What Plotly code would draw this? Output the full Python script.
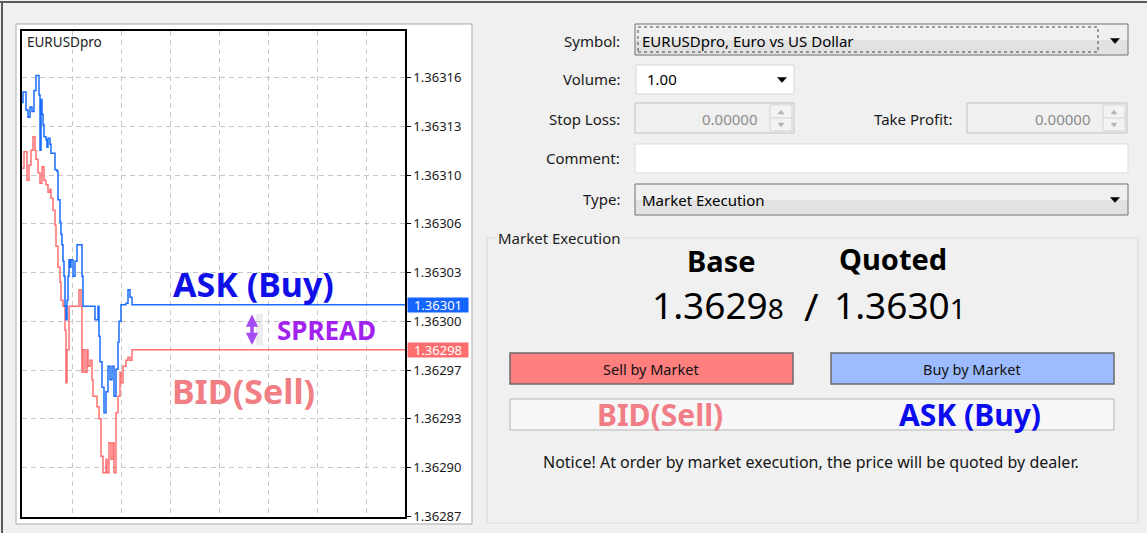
import plotly.graph_objects as go

# ---------------- data ----------------
ask_x = [0, 1, 4, 6, 8, 10, 12, 14, 17, 18, 19, 20, 21, 22, 24, 25, 26, 28, 29, 33, 35, 36, 38, 39, 40,
         41, 42, 43, 44, 45, 46, 47, 48, 49, 51, 53, 55, 60, 61, 73, 76, 77, 78, 80, 82, 84, 86, 88, 90,
         92, 94, 96, 97, 99, 104, 106, 108, 110, 383]
ask_y = [1.363145, 1.363152, 1.363140, 1.363135, 1.363142, 1.363139, 1.363153, 1.363163, 1.363150,
         1.363113, 1.363147, 1.363137, 1.363130, 1.363122, 1.363120, 1.363115, 1.363121, 1.363117,
         1.363111, 1.363100, 1.363099, 1.363080, 1.363065, 1.363057, 1.363050, 1.363039, 1.363029,
         1.363009, 1.363000, 1.363013, 1.363029, 1.363040, 1.363035, 1.363040, 1.363029, 1.363039,
         1.363050, 1.363029, 1.363009, 1.363000, 1.363009, 1.362989, 1.362972, 1.362955, 1.362938,
         1.362952, 1.362969, 1.362960, 1.362969, 1.362949, 1.362967, 1.362985, 1.362999, 1.363010,
         1.363011, 1.363020, 1.363015, 1.363010, 1.363010]

bid_x = [0, 2, 5, 7, 9, 11, 13, 14, 16, 18, 20, 22, 24, 26, 28, 29, 31, 33, 34, 36, 38, 39, 41, 43, 44,
         45, 47, 57, 59, 60, 61, 63, 65, 66, 68, 70, 71, 75, 77, 79, 81, 84, 85, 87, 89, 91, 92, 94, 96,
         98, 99, 101, 104, 106, 108, 110, 383]
bid_y = [1.363101, 1.363112, 1.363093, 1.363103, 1.363113, 1.363122, 1.363113, 1.363107, 1.363098,
         1.363091, 1.363102, 1.363093, 1.363090, 1.363085, 1.363087, 1.363081, 1.363073, 1.363063,
         1.363049, 1.363035, 1.363025, 1.363013, 1.363009, 1.362993, 1.362958, 1.362980, 1.363009,
         1.363020, 1.363009, 1.362965, 1.362980, 1.362965, 1.362980, 1.362969, 1.362973, 1.362960,
         1.362949, 1.362942, 1.362934, 1.362909, 1.362898, 1.362907, 1.362898, 1.362918, 1.362907,
         1.362918, 1.362898, 1.362938, 1.362949, 1.362965, 1.362958, 1.362969, 1.362973, 1.362975,
         1.362973, 1.362980, 1.362980]

tick_values = [1.3628690, 1.3629015, 1.3629340, 1.3629665, 1.3629990, 1.3630315, 1.3630640,
               1.3630965, 1.3631290, 1.3631615]
tick_labels = ["1.36287", "1.36290", "1.36293", "1.36297", "1.36300", "1.36303", "1.36306",
               "1.36310", "1.36313", "1.36316"]
x_grid = [50, 99, 148, 197, 246, 295, 344]

symbol = "EURUSDpro"
bid_price = "1.36298"
ask_price = "1.36301"

# ---------------- helpers ----------------
W, H = 1147, 533
FONT = "Noto Sans"


def fx(px):
    return px / W


def fy(py):
    return 1 - py / H


shapes = []
annotations = []


def rect(x0, y0, x1, y1, fill, line, width=1, layer="below", dash="solid"):
    shapes.append(dict(type="rect", xref="paper", yref="paper", x0=fx(x0), x1=fx(x1),
                       y0=fy(y1), y1=fy(y0), fillcolor=fill, layer=layer,
                       line=dict(color=line, width=width, dash=dash)))


def hline(x0, x1, y, color, width=1, layer="below"):
    shapes.append(dict(type="line", xref="paper", yref="paper", x0=fx(x0), x1=fx(x1),
                       y0=fy(y), y1=fy(y), layer=layer, line=dict(color=color, width=width)))


def vline(x, y0, y1, color, width=1, layer="below"):
    shapes.append(dict(type="line", xref="paper", yref="paper", x0=fx(x), x1=fx(x),
                       y0=fy(y0), y1=fy(y1), layer=layer, line=dict(color=color, width=width)))


def tri(cx, cy, w, h, color, up=False):
    if up:
        pts = [(cx - w / 2, cy + h / 2), (cx + w / 2, cy + h / 2), (cx, cy - h / 2)]
    else:
        pts = [(cx - w / 2, cy - h / 2), (cx + w / 2, cy - h / 2), (cx, cy + h / 2)]
    path = "M " + " L ".join(f"{fx(a)},{fy(b)}" for a, b in pts) + " Z"
    shapes.append(dict(type="path", xref="paper", yref="paper", path=path, fillcolor=color,
                       line=dict(color=color, width=0.5), layer="above"))


def text(px, py, s, size, color="#1a1a1a", anchor="center", weight="normal", family=FONT,
         bg=None):
    d = dict(xref="paper", yref="paper", x=fx(px), y=fy(py), text=s, showarrow=False,
             xanchor=anchor, yanchor="middle",
             font=dict(family=family, size=size, color=color, weight=weight))
    if bg:
        d["bgcolor"] = bg
    annotations.append(d)


# ---------------- window frame & chart panel ----------------
hline(0, W, 2, "#5a5a5a", 2)
vline(2, 2, H, "#5a5a5a", 2)
rect(16, 24, 472, 524, "#ffffff", "#a9a9a9", 1)

# ---------------- chart ----------------
fig = go.Figure()
fig.add_trace(go.Scatter(x=bid_x, y=bid_y, mode="lines", line=dict(color="#ff6f6f", width=1.5, shape="hv"),
                         name="Bid", hoverinfo="skip"))
fig.add_trace(go.Scatter(x=ask_x, y=ask_y, mode="lines", line=dict(color="#1a6cff", width=1.5, shape="hv"),
                         name="Ask", hoverinfo="skip"))

text(25, 42, symbol, 13.5, "#222222", anchor="left")

# big chart labels
text(253, 284, "ASK (Buy)", 34, "#0f0fe8", weight="bold")
text(243, 391, "BID(Sell)", 34, "#f07e82", weight="bold")
text(326, 330, "SPREAD", 26, "#a222ef", weight="bold")
rect(256, 314, 263, 345, "rgba(120,120,120,0.14)", "rgba(0,0,0,0)", 0, layer="above")
annotations.append(dict(xref="paper", yref="paper", x=fx(252), y=fy(345), ax=0, ay=-32,
                        text="", showarrow=True, arrowhead=2, startarrowhead=2,
                        arrowside="end+start", arrowsize=0.7, startarrowsize=0.7,
                        arrowwidth=3.5, arrowcolor="#a54cf2"))

# last price labels on the axis
annotations.append(dict(xref="paper", yref="y", x=fx(407), y=float(ask_price), text=ask_price,
                        showarrow=False, xanchor="left", yanchor="middle", bgcolor="#1464ff",
                        width=58, height=12, borderpad=1,
                        font=dict(family=FONT, size=13, color="#ffffff")))
annotations.append(dict(xref="paper", yref="y", x=fx(407), y=float(bid_price), text=bid_price,
                        showarrow=False, xanchor="left", yanchor="middle", bgcolor="#ff6e6e",
                        width=58, height=12, borderpad=1,
                        font=dict(family=FONT, size=13, color="#ffffff")))

# ---------------- order form ----------------
LBL = 15
text(622, 41, "Symbol:", LBL, anchor="right")
text(622, 79, "Volume:", LBL, anchor="right")
text(622, 119, "Stop Loss:", LBL, anchor="right")
text(622, 158, "Comment:", LBL, anchor="right")
text(622, 199, "Type:", LBL, anchor="right")
text(954, 119, "Take Profit:", LBL, anchor="right")

# symbol combo
rect(635, 24, 1128, 40, "#f0f0f0", "rgba(0,0,0,0)", 0)
rect(635, 40, 1128, 55, "#e2e2e2", "rgba(0,0,0,0)", 0)
rect(635, 24, 1128, 55, "rgba(0,0,0,0)", "#707070", 1)
rect(638, 27, 1098, 52, "rgba(0,0,0,0)", "#444444", 1, dash="dot")
text(640, 41, "EURUSDpro, Euro vs US Dollar", LBL, "#000000", anchor="left")
tri(1115, 41, 9, 5, "#000000")

# volume
rect(636, 65, 794, 94, "#ffffff", "#d6d6d6", 1)
text(645, 79, "1.00", LBL, "#000000", anchor="left")
tri(782, 80, 9, 5, "#000000")

# stop loss / take profit spin boxes
for (x0, x1, tx) in [(635, 794, 760), (967, 1127, 1093)]:
    rect(x0, 103, x1, 133, "#f0f0f0", "#c2c2c2", 1)
    rect(x1 - 24, 105, x1 - 2, 131, "#f3f3f3", "#d3d3d3", 1)
    hline(x1 - 24, x1 - 2, 118, "#d3d3d3", 1)
    tri(x1 - 13, 112, 6, 4, "#b5b5b5", up=True)
    tri(x1 - 13, 125, 6, 4, "#b5b5b5")
    text(tx, 119, "0.00000", LBL, "#8c8c8c", anchor="right")

# comment
rect(635, 144, 1128, 173, "#ffffff", "#dcdcdc", 1)

# type combo
rect(635, 184, 1128, 200, "#f0f0f0", "rgba(0,0,0,0)", 0)
rect(635, 200, 1128, 215, "#e2e2e2", "rgba(0,0,0,0)", 0)
rect(635, 184, 1128, 215, "rgba(0,0,0,0)", "#707070", 1)
text(640, 200, "Market Execution", LBL, "#000000", anchor="left")
tri(1115, 200, 9, 5, "#000000")

# ---------------- market execution group ----------------
rect(487, 238, 1138, 523, "rgba(0,0,0,0)", "#d3dde3", 1.2)
text(496, 238, "Market Execution", LBL, "#222222", anchor="left", bg="#f0f0f0")

text(721, 260, "Base", 29, "#000000", weight="bold")
text(893, 259, "Quoted", 29, "#000000", weight="bold")

text(650, 304, bid_price[:-1] + "<span style='font-size:28px'>" + bid_price[-1] + "</span>", 37,
     "#000000", anchor="left")
text(811, 305, "/", 39, "#000000")
text(832, 304, ask_price[:-1] + "<span style='font-size:28px'>" + ask_price[-1] + "</span>", 37,
     "#000000", anchor="left")

rect(510, 353, 793, 384, "#ff7f7f", "#6a6a6a", 1.5)
text(651, 369, "Sell by Market", 14.5, "#111111")
rect(831, 353, 1114, 384, "#9dbcff", "#6a6a6a", 1.5)
text(972, 369, "Buy by Market", 14.5, "#111111")

rect(510, 399, 1114, 430, "#f7f7f7", "#b3b3b3", 1)
text(660, 414, "BID(Sell)", 30, "#f07e86", weight="bold")
text(970, 414, "ASK (Buy)", 30, "#0b0bef", weight="bold")

text(811, 462, "Notice! At order by market execution, the price will be quoted by dealer.", 16,
     "#151515")

# ---------------- layout ----------------
fig.update_layout(
    width=W, height=H, autosize=False,
    margin=dict(l=0, r=0, t=0, b=0, pad=0, autoexpand=False),
    paper_bgcolor="#f0f0f0", plot_bgcolor="#ffffff",
    showlegend=False,
    font=dict(family=FONT, color="#222222"),
    shapes=shapes, annotations=annotations,
    xaxis=dict(domain=[fx(22), fx(405)], range=[0, 383], tickvals=x_grid, showticklabels=False,
               ticks="", showgrid=True, gridcolor="#c6c6c6", griddash="5px,4px", gridwidth=1,
               showline=True, mirror=True, linecolor="#000000", linewidth=1.5, zeroline=False,
               fixedrange=True, automargin=False),
    yaxis=dict(domain=[fy(517), fy(31)], range=[1.3628685, 1.3631926], side="right",
               tickvals=tick_values, ticktext=tick_labels, ticks="outside", ticklen=4,
               tickcolor="#000000", tickfont=dict(family=FONT, size=13, color="#1a1a1a"),
               showgrid=True, gridcolor="#c6c6c6", griddash="5px,4px", gridwidth=1,
               showline=True, mirror=True, linecolor="#000000", linewidth=1.5, zeroline=False,
               fixedrange=True, automargin=False),
)

page_css = ("var h=document.documentElement,b=document.body;"
            "h.style.margin='0';h.style.padding='0';h.style.background='#f0f0f0';"
            "b.style.margin='0';b.style.padding='0';b.style.background='#f0f0f0';")
fig.write_html("out.html", config={"displayModeBar": False}, post_script=page_css)
